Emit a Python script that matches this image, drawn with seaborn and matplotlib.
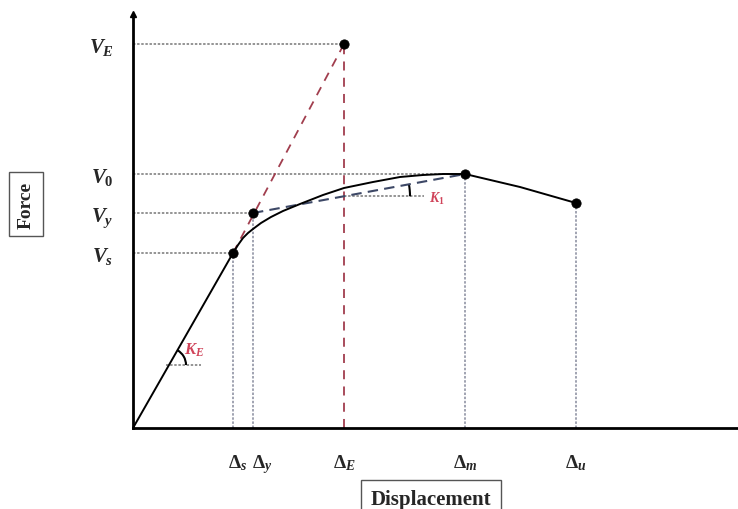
import matplotlib
matplotlib.use("Agg")
import matplotlib.pyplot as plt
import matplotlib.transforms as mtransforms
from matplotlib.patches import Arc
import numpy as np
import pandas as pd
import seaborn as sns

# Characteristic displacements and forces of the capacity curve
delta_s, V_s = 1.00, 1.75
delta_y, V_y = 1.20, 2.15
delta_E, V_E = 2.11, 3.84
delta_m, V_0 = 3.32, 2.54
delta_u, V_u = 4.43, 2.25

# Force-displacement capacity curve (read points)
curve_x = [0.00, 1.00, 1.05, 1.10, 1.15, 1.20, 1.28, 1.38, 1.50, 1.67, 1.90, 2.11, 2.40, 2.67, 2.90, 3.10, 3.32, 3.87, 4.43]
curve_y = [0.00, 1.75, 1.83, 1.90, 1.95, 1.99, 2.05, 2.11, 2.17, 2.24, 2.33, 2.40, 2.46, 2.51, 2.53, 2.54, 2.54, 2.41, 2.25]

y_tick_values = [V_s, V_y, V_0, V_E]
y_tick_labels = [r"$V_s$", r"$V_y$", r"$V_0$", r"$V_E$"]
x_tick_values = [delta_s, delta_y, delta_E, delta_m, delta_u]
x_tick_labels = [r"$\Delta_s$", r"$\Delta_y$", r"$\Delta_E$", r"$\Delta_m$", r"$\Delta_u$"]
x_label_shift_pt = [3, 7, 0, 0, 0]  # nudges that keep close labels apart

sns.set_theme(style="white")
plt.rcParams["font.family"] = ["Liberation Serif", "DejaVu Serif"]
plt.rcParams["mathtext.fontset"] = "custom"
plt.rcParams["mathtext.rm"] = "Liberation Serif:bold"
plt.rcParams["mathtext.it"] = "Liberation Serif:italic:bold"
plt.rcParams["mathtext.bf"] = "Liberation Serif:bold"

fig = plt.figure(figsize=(7.38, 5.10), dpi=100)
ax = fig.add_axes([0, 0, 1, 1])
ax.set_xlim(-1.33, 6.05)
ax.set_ylim(-0.81, 4.29)

dot_col = "#777777"
red_col = "#a13e4e"
blue_col = "#3d4866"
k_col = "#d0445a"
dot_ls = (0, (1.6, 1.1))

# Reference lines from the axes to the characteristic points
for xv, yv in [(delta_s, V_s), (delta_y, V_y), (delta_m, V_0), (delta_E, V_E)]:
    ax.plot([0, xv], [yv, yv], color=dot_col, lw=1.1, ls=dot_ls, zorder=1)
for xv, yv in [(delta_s, V_s), (delta_y, V_y), (delta_m, V_0), (delta_u, V_u)]:
    ax.plot([xv, xv], [0, yv], color="#868a9c", lw=1.1, ls=dot_ls, zorder=1)
ax.plot([delta_E, delta_E], [0, V_E], color=red_col, lw=1.3, ls=(0, (5, 4)), zorder=1)

# Effective elastic stiffness line through the yield point
ax.plot([delta_s, delta_E], [V_s, V_E], color=red_col, lw=1.3, ls=(0, (5, 4)), zorder=2)

# Post-yield bilinear branch
ax.plot([delta_y, delta_m], [V_y, V_0], color=blue_col, lw=1.5, ls=(0, (5, 3)), zorder=2)

# Capacity curve
df = pd.DataFrame({"disp": curve_x, "force": curve_y})
sns.lineplot(data=df, x="disp", y="force", color="black", lw=1.4, ax=ax,
             sort=False, estimator=None, zorder=3)

# Characteristic points
pts = pd.DataFrame({"disp": [delta_s, delta_y, delta_E, delta_m, delta_u],
                    "force": [V_s, V_y, V_E, V_0, V_u]})
sns.scatterplot(data=pts, x="disp", y="force", color="black", s=45,
                edgecolor="black", ax=ax, zorder=4)

# Stiffness K_E indicator
ke_x0 = 0.36
ke_y0 = ke_x0 * V_s / delta_s
ax.plot([ke_x0 - 0.03, ke_x0 + 0.32], [ke_y0, ke_y0], color=dot_col, lw=1.1, ls=dot_ls, zorder=1)
ax.add_patch(Arc((ke_x0, ke_y0), 0.34, 0.34, theta1=0,
                 theta2=np.degrees(np.arctan(V_s / delta_s)), color="black", lw=1.5))
ax.text(ke_x0 + 0.25, ke_y0 + 0.16, r"$K_E$", color=k_col, fontsize=12, ha="center", va="center")

# Stiffness K_1 indicator
k1_y0 = V_y + (V_0 - V_y) * (delta_E - delta_y) / (delta_m - delta_y)
ax.plot([delta_E, delta_E + 0.80], [k1_y0, k1_y0], color=dot_col, lw=1.1, ls=dot_ls, zorder=1)
ax.add_patch(Arc((delta_E, k1_y0), 1.32, 1.32, theta1=0,
                 theta2=np.degrees(np.arctan((V_0 - V_y) / (delta_m - delta_y))),
                 color="black", lw=1.5))
ax.text(delta_E + 0.93, k1_y0 - 0.02, r"$K_1$", color=k_col, fontsize=10, ha="center", va="center")

# Axes drawn through the origin
for side in ["top", "right"]:
    ax.spines[side].set_visible(False)
ax.spines["left"].set_position(("data", 0))
ax.spines["bottom"].set_position(("data", 0))
ax.spines["left"].set_bounds(0, 4.14)
ax.spines["bottom"].set_bounds(0, 6.05)
for side in ["left", "bottom"]:
    ax.spines[side].set_linewidth(2.0)
    ax.spines[side].set_color("black")
ax.plot([0], [4.14], marker="^", color="black", markersize=5, clip_on=False, zorder=5)

ax.set_yticks(y_tick_values)
ax.set_yticklabels(y_tick_labels, fontsize=15)
ax.tick_params(axis="y", length=0, pad=14)

# Displacement labels under the axis, placed at their data positions
ax.set_xticks([])
for xv, lab, dx in zip(x_tick_values, x_tick_labels, x_label_shift_pt):
    tr = mtransforms.offset_copy(ax.transData, fig=fig, x=dx, y=-28.5, units="points")
    ax.text(xv, 0, lab, transform=tr, fontsize=14, ha="center", va="baseline")
ax.set_xlabel("")
ax.set_ylabel("")

box = dict(boxstyle="square,pad=0.45", fc="white", ec="#555555", lw=1.0)
ax.text(-1.07, 2.24, "Force", rotation=90, fontsize=14, fontweight="bold",
        ha="center", va="center", bbox=box)
ax.text(2.98, -0.71, "Displacement", fontsize=15, fontweight="bold",
        ha="center", va="center", bbox=box)

fig.savefig("out.png", dpi=100)
